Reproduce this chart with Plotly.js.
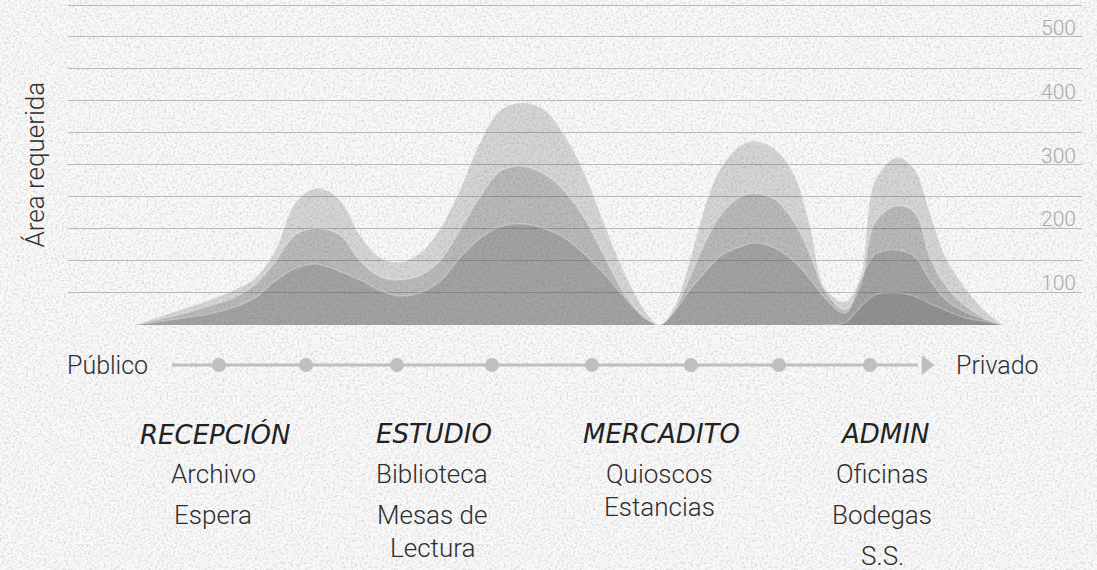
<!DOCTYPE html>
<html>
<head>
<meta charset="utf-8">
<script src="https://cdn.plot.ly/plotly-3.0.1.min.js"></script>
<style>
  html, body { margin: 0; padding: 0; }
  body {
    width: 1097px; height: 570px; overflow: hidden;
    background-color: #efefef;
    background-image: url("data:image/svg+xml;utf8,<svg xmlns='http://www.w3.org/2000/svg' width='400' height='400'><filter id='n' color-interpolation-filters='sRGB'><feTurbulence type='fractalNoise' baseFrequency='0.45' numOctaves='4' stitchTiles='stitch'/><feColorMatrix type='matrix' values='1.6 0 0 0 0.12  1.6 0 0 0 0.12  1.6 0 0 0 0.12  0 0 0 0 0.2'/></filter><rect width='400' height='400' fill='%23f7f7f7'/><rect width='400' height='400' filter='url(%23n)'/></svg>");
  }
  #chart { width: 1097px; height: 570px; }
</style>
</head>
<body>
<div id="chart"></div>
<script>
// ---- data (x = position along the public -> private scale) ----
const xPos = [67, 92, 117, 142, 167, 187, 207, 227, 249, 272, 292, 312, 330, 352, 372, 392, 412, 432, 454, 477, 497, 517, 537, 557, 577, 592, 607, 622, 637, 652, 672, 687, 707, 727, 742, 757, 777, 792, 807, 829, 847, 862, 877, 897, 917, 935];
const layer1 = [50, 63, 76, 89, 105, 123, 165, 240, 264, 245, 190, 155, 148, 162, 200, 262, 335, 385, 397, 385, 345, 285, 205, 130, 72, 50, 80, 152, 235, 293, 330, 337, 325, 282, 205, 108, 86, 123, 275, 312, 292, 225, 158, 108, 72, 50];
const layer2 = [50, 59, 68, 80, 93, 113, 148, 190, 201, 190, 150, 125, 120, 127, 150, 198, 250, 290, 298, 285, 258, 215, 155, 97, 62, 50, 75, 125, 178, 220, 250, 255, 246, 208, 160, 103, 73, 108, 210, 236, 225, 155, 112, 80, 60, 50];
const layer3 = [50, 55, 61, 67, 78, 92, 118, 138, 145, 133, 120, 104, 95, 100, 118, 155, 185, 203, 208, 200, 185, 160, 128, 92, 60, 50, 72, 105, 132, 157, 172, 178, 170, 148, 122, 92, 68, 118, 160, 167, 156, 120, 90, 70, 58, 50];
const xAdmin = [757, 777, 792, 807, 829, 847, 862, 877, 897, 917, 935];
const layer4 = [50, 53, 77, 97, 100, 94, 83, 73, 61, 55, 50];

const stagePos = [151, 238, 329, 424, 524, 623, 711, 802];
const scaleEnds = ['Público', 'Privado'];

const yTickVals = [50, 100, 150, 200, 250, 300, 350, 400, 450, 500, 550];
const yTickText = ['', '100', '', '200', '', '300', '', '400', '', '500', ''];
const yTitle = 'Área requerida';

const categories = ['RECEPCIÓN', 'ESTUDIO', 'MERCADITO', 'ADMIN'];
const categoryPos = [147, 366, 593, 816];
const subItems = [
  ['Archivo', 'Espera'],
  ['Biblioteca', 'Mesas de\nLectura'],
  ['Quioscos\nEstancias'],
  ['Oficinas', 'Bodegas', 'S.S.']
];

// ---- styles ----
const H = 570;
const py = p => 1 - p / H;          // pixel row -> paper fraction
const fillCol = 'rgba(80,80,80,0.21)';
const edgeCol = 'rgba(255,255,255,0.25)';
const bodyFont = { family: 'Roboto, "Liberation Sans", sans-serif', size: 26, color: '#2e2e2e', weight: 300 };
const headFont = { family: '"DejaVu Sans", sans-serif', size: 26, color: '#222', style: 'italic' };

function areaTrace(x, y) {
  return {
    type: 'scatter', mode: 'lines', x: x, y: y,
    fill: 'tozeroy', fillcolor: fillCol,
    line: { shape: 'spline', smoothing: 1, color: edgeCol, width: 1.5 },
    hoverinfo: 'skip', showlegend: false
  };
}

const traces = [
  areaTrace(xPos, layer1),
  areaTrace(xPos, layer2),
  areaTrace(xPos, layer3),
  areaTrace(xAdmin, layer4),
  { // scale line
    type: 'scatter', mode: 'lines', xaxis: 'x', yaxis: 'y2',
    x: [stagePos[0] - 47, stagePos[stagePos.length - 1] + 48], y: [0, 0],
    line: { color: '#bfbfbf', width: 3 }, hoverinfo: 'skip', showlegend: false
  },
  { // stage dots
    type: 'scatter', mode: 'markers', xaxis: 'x', yaxis: 'y2',
    x: stagePos, y: stagePos.map(() => 0),
    marker: { size: 14, color: '#bfbfbf' }, hoverinfo: 'skip', showlegend: false
  },
  { // arrow head
    type: 'scatter', mode: 'markers', xaxis: 'x', yaxis: 'y2',
    x: [stagePos[stagePos.length - 1] + 56], y: [0],
    marker: { size: 17, color: '#bfbfbf', symbol: 'triangle-right' }, hoverinfo: 'skip', showlegend: false
  }
];

const annotations = [];
annotations.push({
  text: yTitle, xref: 'paper', yref: 'paper', x: -0.033, y: py(165),
  xanchor: 'center', yanchor: 'middle', textangle: -90, showarrow: false,
  font: Object.assign({}, bodyFont, { size: 26 })
});
annotations.push({
  text: scaleEnds[0], xref: 'paper', yref: 'paper', x: -0.003, y: py(365),
  xanchor: 'left', yanchor: 'middle', showarrow: false, font: Object.assign({}, bodyFont, { size: 25 })
});
annotations.push({
  text: scaleEnds[1], xref: 'paper', yref: 'paper', x: (954 - 68) / 1014, y: py(365),
  xanchor: 'left', yanchor: 'middle', showarrow: false, font: Object.assign({}, bodyFont, { size: 25 })
});
categories.forEach((c, i) => {
  annotations.push({
    text: c, xref: 'x', yref: 'paper', x: categoryPos[i], y: py(434),
    xanchor: 'center', yanchor: 'middle', showarrow: false, font: headFont
  });
  let yy = 474;
  subItems[i].forEach(item => {
    item.split('\n').forEach(line => {
      annotations.push({
        text: line, xref: 'x', yref: 'paper', x: categoryPos[i] - 2, y: py(yy),
        xanchor: 'center', yanchor: 'middle', showarrow: false, font: bodyFont
      });
      yy += 33;
    });
    yy += 8;
  });
});

const layout = {
  width: 1097, height: 570,
  margin: { l: 68, r: 15, t: 0, b: 0, pad: 0 },
  paper_bgcolor: 'rgba(0,0,0,0)', plot_bgcolor: 'rgba(0,0,0,0)',
  showlegend: false,
  xaxis: {
    range: [0, 1014], showgrid: false, zeroline: false, showline: false,
    showticklabels: false, ticks: '', fixedrange: true
  },
  yaxis: {
    domain: [py(325), 1], range: [49.6, 50 + 325 / 0.64],
    side: 'right', tickmode: 'array', tickvals: yTickVals, ticktext: yTickText,
    ticklabelposition: 'inside top', ticklabelshift: 5, ticklabelstandoff: 3,
    tickfont: { family: 'Roboto, "Liberation Sans", sans-serif', size: 21, color: '#a9a9a9', weight: 300 },
    showgrid: true, gridcolor: '#b9b9b9', gridwidth: 1,
    zeroline: false, showline: false, ticks: '', fixedrange: true
  },
  yaxis2: {
    domain: [py(365) - 0.025, py(365) + 0.025], range: [-1, 1], anchor: 'x',
    visible: false, fixedrange: true
  },
  annotations: annotations
};

Plotly.newPlot('chart', traces, layout, { staticPlot: true, displayModeBar: false });
</script>
</body>
</html>
